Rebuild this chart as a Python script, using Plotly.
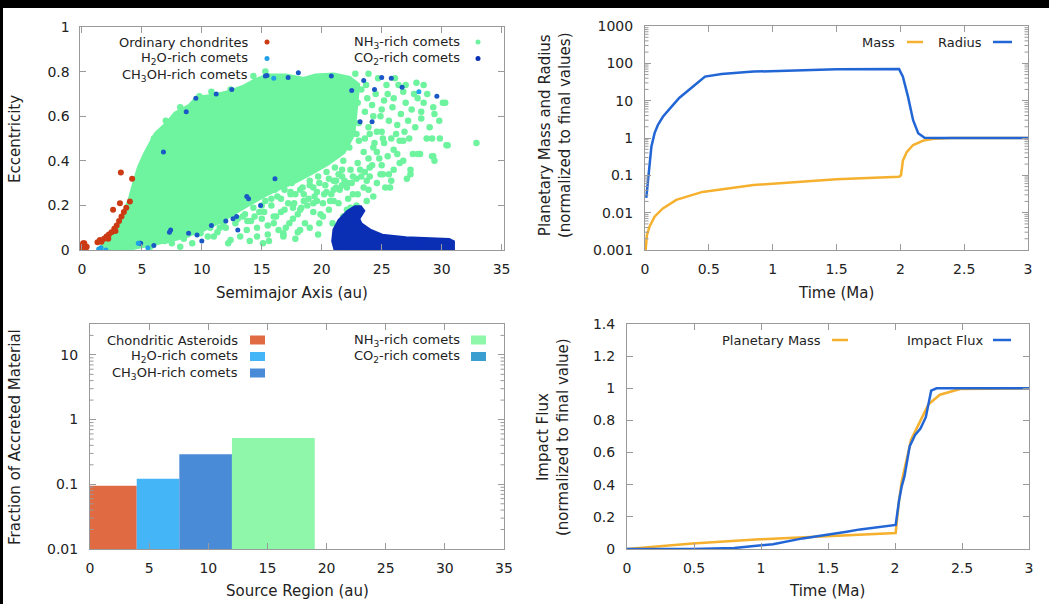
import plotly.graph_objects as go

W, H = 1049, 604


def px(x):
    return x / W


def py(y):
    return 1 - y / H


# ---------------- data: panel (a) semimajor axis [au] / eccentricity ----------------
# outline of the densely populated NH3-rich comet cloud
nh3_core_a = [1.4, 1.8, 2.5, 3.3, 4.0, 4.4, 4.8, 5.3, 6.2, 7.2, 7.8, 9.0, 9.6, 11.0, 12.2, 13.5, 14.5,
              15.5, 17.0, 18.5, 19.5, 21.0, 22.3, 23.0, 22.9, 22.8, 22.6, 21.8, 20.5, 19.2, 17.8, 16.5,
              15.3, 14.0, 12.8, 11.5, 10.0, 8.0, 6.0, 5.0, 4.0, 3.2]
nh3_core_e = [0.0, 0.02, 0.06, 0.14, 0.22, 0.30, 0.37, 0.43, 0.52, 0.57, 0.61, 0.645, 0.68, 0.69, 0.705,
              0.73, 0.76, 0.78, 0.78, 0.765, 0.78, 0.785, 0.77, 0.74, 0.68, 0.62, 0.52, 0.44, 0.39, 0.35,
              0.31, 0.28, 0.25, 0.21, 0.17, 0.13, 0.09, 0.055, 0.03, 0.02, 0.008, 0.0]
# individual NH3-rich comets outside the dense cloud
nh3_a = [15.8, 16.3, 16.9, 17.5, 18.0, 18.6, 19.3, 20.0, 20.8, 21.5,
         16.0, 16.6, 17.2, 17.8, 18.4, 19.0, 19.7, 20.4, 21.1, 21.8,
         17.0, 17.6, 18.3, 18.9, 19.6, 20.3, 21.0, 21.7, 22.4, 23.0,
         18.6, 19.3, 20.1, 20.8, 21.5, 22.2, 22.9, 23.6, 24.2, 24.8,
         15.0, 14.6, 13.8, 15.5, 16.8, 18.0,
         23.5, 24.3, 25.2, 26.0, 22.3, 23.1, 24.0, 25.0, 26.2, 27.3,
         23.3, 23.8, 24.5, 25.2, 25.9, 26.6, 27.2, 23.6, 24.3, 25.0, 25.6, 26.3, 27.0, 27.7, 28.3,
         23.1, 23.9, 24.6, 25.4, 26.1, 24.7, 23.9, 22.8, 27.0, 27.9, 28.5, 29.3, 30.1, 29.8, 30.4,
         28.3, 29.4, 28.5, 30.3,
         6.0, 7.0, 8.2, 9.8, 10.8, 12.4, 14.3, 15.3,
         3.75, 5.7, 7.1, 8.2, 9.9, 11.0, 12.4, 11.5, 12.6, 13.75, 14.6, 15.1, 16.8, 18.2, 16.0, 17.6,
         19.9, 21.0, 19.3, 22.1, 23.75, 25.1, 26.5, 28.2, 29.3, 27.4, 25.7, 23.75, 22.4, 17.4, 20.7,
         20.1, 19.3, 18.5, 18.2, 16.8, 16.2, 22.6, 22.1, 23.5, 24.0, 24.9, 25.6, 25.3, 27.1, 27.4,
         26.8, 27.6, 28.0, 29.2, 29.4, 30.5, 32.9, 29.85, 29.2, 28.75, 26.5, 26.8, 25.1, 21.7, 21.2,
         0.1, 0.05,
         7.5, 8.5, 9.2, 10.5, 11.3, 12.0, 12.8, 13.4, 14.1, 14.8, 13.2, 14.0, 12.2,
         15.3, 16.1, 17.0, 17.7, 18.9, 19.9, 15.5, 16.4, 17.3, 18.0, 18.8, 19.6, 20.4, 21.2, 21.9, 22.6,
         23.2, 23.9, 24.6, 25.5, 26.3, 19.0, 19.8, 20.6, 21.4, 22.2, 23.0, 23.9, 24.6, 26.0, 25.0, 21.8,
         20.9, 17.8, 15.6, 19.7, 22.9, 24.3, 24.0, 25.8,
         22.6, 23.0, 23.7, 24.2, 24.9, 25.5, 26.0, 26.8, 26.4, 27.5, 28.0, 28.8, 27.8, 26.9, 25.8, 23.6,
         24.4, 22.9, 29.0,
         14.3, 15.0, 15.8, 16.6, 17.4, 18.2, 19.0, 19.8, 20.6, 21.4, 13.6, 14.4, 15.2, 16.9, 17.7, 18.5,
         19.4, 20.2, 21.0, 21.7, 22.5, 23.3, 11.8, 13.0, 9.5, 10.7, 8.8, 6.9]
nh3_e = [0.20, 0.24, 0.27, 0.30, 0.33, 0.35, 0.37, 0.39, 0.42, 0.44,
         0.12, 0.17, 0.21, 0.25, 0.28, 0.31, 0.33, 0.35, 0.37, 0.40,
         0.10, 0.14, 0.19, 0.23, 0.26, 0.29, 0.31, 0.33, 0.36, 0.39,
         0.12, 0.17, 0.21, 0.25, 0.27, 0.30, 0.32, 0.35, 0.38, 0.41,
         0.14, 0.10, 0.13, 0.07, 0.06, 0.08,
         0.44, 0.46, 0.48, 0.45, 0.46, 0.49, 0.52, 0.53, 0.52, 0.50,
         0.72, 0.68, 0.70, 0.67, 0.64, 0.61, 0.58, 0.62, 0.60, 0.63, 0.58, 0.56, 0.66, 0.70, 0.62,
         0.57, 0.55, 0.53, 0.74, 0.77, 0.77, 0.79, 0.79, 0.74, 0.75, 0.74, 0.64, 0.66, 0.58, 0.47,
         0.59, 0.61, 0.66, 0.66,
         0.50, 0.58, 0.64, 0.69, 0.71, 0.72, 0.78, 0.80,
         0.015, 0.015, 0.045, 0.015, 0.075, 0.06, 0.045, 0.10, 0.16, 0.09, 0.06, 0.03, 0.067, 0.09, 0.15, 0.19,
         0.16, 0.22, 0.28, 0.28, 0.31, 0.34, 0.39, 0.43, 0.42, 0.34, 0.28, 0.22, 0.19, 0.25, 0.22,
         0.15, 0.21, 0.25, 0.18, 0.075, 0.15, 0.25, 0.18, 0.28, 0.37, 0.34, 0.34, 0.28, 0.32, 0.36,
         0.40, 0.43, 0.43, 0.42, 0.40, 0.47, 0.48, 0.50, 0.50, 0.50, 0.49, 0.49, 0.50, 0.36, 0.31,
         0.01, 0.0,
         0.03, 0.05, 0.03, 0.06, 0.08, 0.10, 0.12, 0.15, 0.13, 0.17, 0.06, 0.04, 0.03,
         0.22, 0.27, 0.31, 0.34, 0.38, 0.41, 0.11, 0.09, 0.12, 0.16, 0.20, 0.22, 0.26, 0.28, 0.31, 0.33,
         0.36, 0.41, 0.44, 0.42, 0.43, 0.10, 0.12, 0.18, 0.21, 0.23, 0.25, 0.27, 0.30, 0.36, 0.38, 0.15,
         0.12, 0.05, 0.04, 0.07, 0.20, 0.24, 0.33, 0.31,
         0.74, 0.66, 0.74, 0.65, 0.60, 0.70, 0.68, 0.71, 0.74, 0.63, 0.68, 0.70, 0.55, 0.53, 0.50, 0.50,
         0.48, 0.52, 0.55,
         0.19, 0.20, 0.23, 0.23, 0.26, 0.27, 0.29, 0.30, 0.32, 0.34, 0.16, 0.15, 0.17, 0.18, 0.21, 0.22,
         0.24, 0.25, 0.27, 0.29, 0.30, 0.33, 0.12, 0.14, 0.08, 0.10, 0.07, 0.04]
ch3oh_a = [12.5, 8.7, 15.3, 6.8, 13.9, 12.9, 12.0, 10.8, 8.9, 7.3, 4.8, 17.2, 18.05, 20.8, 22.5, 23.5,
           24.4, 25.0, 25.8, 26.7, 29.6, 24.2, 9.5, 11.2, 14.9, 10.0, 6.0, 13.0, 9.6, 12.6, 13.75,
           16.1, 23.2, 7.4, 4.9]
ch3oh_e = [0.72, 0.62, 0.78, 0.44, 0.23, 0.15, 0.13, 0.11, 0.075, 0.08, 0.03, 0.774, 0.795, 0.78, 0.715,
           0.76, 0.72, 0.774, 0.77, 0.73, 0.69, 0.575, 0.68, 0.70, 0.20, 0.04, 0.02, 0.09, 0.067, 0.14,
           0.24, 0.32, 0.575, 0.09, 0.03]
h2o_a = [1.4, 1.6, 4.7, 16.0, 28.1, 2.0, 5.5, 1.5]
h2o_e = [0.005, 0.01, 0.03, 0.77, 0.71, 0.0, 0.01, 0.0]
oc_a = [3.25, 4.19, 3.17, 2.6, 4.0, 1.63, 1.85, 2.05, 2.25, 2.47, 2.7, 2.9, 3.1, 3.3, 3.5, 3.7, 1.3, 1.5,
        0.0, 0.2, 0.4, -0.1, 0.3, 0.1, 2.2, 2.8]
oc_e = [0.347, 0.32, 0.21, 0.18, 0.217, 0.037, 0.05, 0.06, 0.07, 0.08, 0.095, 0.11, 0.13, 0.15, 0.17,
        0.19, 0.035, 0.045, 0.02, 0.03, 0.015, 0.01, 0.0, 0.03, 0.05, 0.085]
# outline of the CO2-rich comet clump
co2_core_a = [21.2, 21.0, 21.1, 21.5, 22.2, 22.8, 23.2, 23.4, 23.0, 23.2, 24.0, 25.0, 27.0, 29.0, 30.6,
              30.9, 30.9, 30.6]
co2_core_e = [0.0, 0.04, 0.09, 0.13, 0.17, 0.19, 0.19, 0.175, 0.14, 0.115, 0.085, 0.062, 0.05, 0.045,
              0.043, 0.035, 0.005, 0.0]

# ---------------- data: panel (b) ----------------
t_mass = [0.0, 0.005, 0.015, 0.035, 0.075, 0.14, 0.245, 0.45, 0.85, 1.5, 1.99, 2.005, 2.02, 2.05, 2.1,
          2.18, 2.26, 2.4, 3.0]
mass = [0.001, 0.001, 0.0025, 0.0042, 0.0078, 0.013, 0.022, 0.036, 0.055, 0.078, 0.092, 0.10, 0.25,
        0.42, 0.65, 0.85, 0.95, 1.0, 1.0]
t_rad = [0.01, 0.02, 0.03, 0.04, 0.05, 0.075, 0.1, 0.14, 0.18, 0.22, 0.27, 0.32, 0.4, 0.47, 0.6, 0.85,
         1.2, 1.5, 1.99, 2.02, 2.06, 2.1, 2.14, 2.19, 2.3, 3.0]
radius = [0.025, 0.06, 0.14, 0.3, 0.58, 1.35, 2.2, 3.7, 5.5, 7.7, 12.0, 17.0, 28.0, 44.0, 52.0, 60.0,
          66.0, 69.0, 70.0, 44.0, 12.8, 3.0, 1.34, 1.02, 1.0, 1.0]

# ---------------- data: panel (c) ----------------
src_left = [0.0, 3.95, 7.55, 12.0]
src_right = [3.95, 7.55, 12.0, 19.0]
src_frac = [0.095, 0.122, 0.29, 0.52]

# ---------------- data: panel (d) ----------------
t_pm = [0.0, 0.49, 0.99, 1.49, 1.99, 2.005, 2.03, 2.05, 2.12, 2.19, 2.25, 2.335, 2.485, 3.0]
planet_mass = [0.0, 0.035, 0.06, 0.08, 0.098, 0.10, 0.30, 0.42, 0.68, 0.80, 0.90, 0.96, 0.995, 1.0]
t_flux = [0.0, 0.49, 0.8, 0.99, 1.09, 1.31, 1.49, 1.64, 1.74, 1.99, 2.005, 2.03, 2.05, 2.07, 2.09,
          2.11, 2.15, 2.19, 2.23, 2.25, 2.27, 2.31, 3.0]
impact_flux = [0.0, 0.0, 0.006, 0.019, 0.03, 0.066, 0.087, 0.108, 0.122, 0.145, 0.15, 0.30, 0.39, 0.45,
               0.55, 0.64, 0.71, 0.75, 0.82, 0.907, 0.985, 1.0, 1.0]

# tick labels
x_ticks_au = [0, 5, 10, 15, 20, 25, 30, 35]
log_ticks_b = [0.001, 0.01, 0.1, 1, 10, 100, 1000]
log_text_b = ["0.001", "0.01", "0.1", "1", "10", "100", "1000"]
log_ticks_c = [0.01, 0.1, 1, 10]
log_text_c = ["0.01", "0.1", "1", "10"]

# ---------------- colours ----------------
C_OC = "#cc3a14"
C_H2O = "#1fa0e8"
C_CH3OH = "#1a58c6"
C_NH3 = "#6ef39e"
C_CO2 = "#0a2fb5"
C_MASS = "#f5b02e"
C_RAD = "#2266d6"
BAR_COLORS = ["#e06a42", "#44b5f6", "#4a8bd8", "#8ff7a9"]
C_CO2_BAR = "#3a9fd0"

FONT = "DejaVu Sans"
TXT = "#222222"
AX = "#9a9a9a"

# panel frames in pixels (left, right, top, bottom)
FR_A = (79.5, 504, 27, 250)
FR_B = (645, 1028, 26, 250)
FR_C = (90, 504, 324, 549)
FR_D = (627, 1029, 324, 549)

fig = go.Figure()

# panel (a)
fig.add_trace(go.Scatter(x=nh3_core_a, y=nh3_core_e, mode="lines", fill="toself", fillcolor=C_NH3,
                         line=dict(color=C_NH3, width=5), xaxis="x", yaxis="y", hoverinfo="skip"))
fig.add_trace(go.Scatter(x=nh3_a, y=nh3_e, mode="markers", marker=dict(color=C_NH3, size=6.5),
                         xaxis="x", yaxis="y"))
fig.add_trace(go.Scatter(x=ch3oh_a, y=ch3oh_e, mode="markers", marker=dict(color=C_CH3OH, size=5),
                         xaxis="x", yaxis="y"))
fig.add_trace(go.Scatter(x=h2o_a, y=h2o_e, mode="markers", marker=dict(color=C_H2O, size=5),
                         xaxis="x", yaxis="y"))
fig.add_trace(go.Scatter(x=oc_a, y=oc_e, mode="markers", marker=dict(color=C_OC, size=6),
                         xaxis="x", yaxis="y"))
fig.add_trace(go.Scatter(x=co2_core_a, y=co2_core_e, mode="lines", fill="toself", fillcolor=C_CO2,
                         line=dict(color=C_CO2, width=5), xaxis="x", yaxis="y", hoverinfo="skip"))

# panel (b)
fig.add_trace(go.Scatter(x=t_mass, y=mass, mode="lines", line=dict(color=C_MASS, width=2.5),
                         xaxis="x2", yaxis="y2"))
fig.add_trace(go.Scatter(x=t_rad, y=radius, mode="lines", line=dict(color=C_RAD, width=2.5),
                         xaxis="x2", yaxis="y2"))

# panel (c)
centers = [(a + b) / 2 for a, b in zip(src_left, src_right)]
widths = [b - a for a, b in zip(src_left, src_right)]
fig.add_trace(go.Bar(x=centers, y=src_frac, width=widths, marker=dict(color=BAR_COLORS, line=dict(width=0)),
                     xaxis="x3", yaxis="y3"))

# panel (d)
fig.add_trace(go.Scatter(x=t_pm, y=planet_mass, mode="lines", line=dict(color=C_MASS, width=2.5),
                         xaxis="x4", yaxis="y4"))
fig.add_trace(go.Scatter(x=t_flux, y=impact_flux, mode="lines", line=dict(color=C_RAD, width=2.5),
                         xaxis="x4", yaxis="y4"))

tickfont = dict(family=FONT, size=14, color=TXT)


def axis(**kw):
    d = dict(showline=True, linecolor=AX, linewidth=1, mirror="allticks", ticks="inside", ticklen=6,
             tickcolor=AX, tickwidth=1, showgrid=False, zeroline=False, tickfont=tickfont,
             automargin=False, fixedrange=True)
    d.update(kw)
    return d


fig.update_layout(
    width=W, height=H, autosize=False, showlegend=False,
    margin=dict(l=0, r=0, t=0, b=0, pad=0),
    paper_bgcolor="black", plot_bgcolor="white",
    xaxis=axis(domain=[px(FR_A[0]), px(FR_A[1])], range=[-0.2, 35.2], tickvals=x_ticks_au,
               anchor="y", ticklabelstandoff=6),
    yaxis=axis(domain=[py(FR_A[3]), py(FR_A[2])], range=[0, 1], dtick=0.2, anchor="x", ticklabelstandoff=6),
    xaxis2=axis(domain=[px(FR_B[0]), px(FR_B[1])], range=[0, 3], dtick=0.5, anchor="y2", ticklabelstandoff=6),
    yaxis2=axis(domain=[py(FR_B[3]), py(FR_B[2])], type="log", range=[-3, 3], tickmode="array",
                tickvals=log_ticks_b, ticktext=log_text_b, anchor="x2", ticklabelstandoff=8),
    xaxis3=axis(domain=[px(FR_C[0]), px(FR_C[1])], range=[0, 35], tickvals=x_ticks_au,
                anchor="y3", ticklabelstandoff=6),
    yaxis3=axis(domain=[py(FR_C[3]), py(FR_C[2])], type="log", range=[-2, 1.477], tickmode="array",
                tickvals=log_ticks_c, ticktext=log_text_c, anchor="x3", ticklabelstandoff=8),
    xaxis4=axis(domain=[px(FR_D[0]), px(FR_D[1])], range=[0, 3], dtick=0.5, anchor="y4", ticklabelstandoff=6),
    yaxis4=axis(domain=[py(FR_D[3]), py(FR_D[2])], range=[0, 1.4], dtick=0.2, anchor="x4", ticklabelstandoff=8),
)

shapes = [dict(type="rect", xref="paper", yref="paper", x0=px(3), x1=1, y0=0, y1=py(8),
               fillcolor="white", line=dict(width=0), layer="below")]
annotations = []


def minor_log_ticks(frame, yref, lo_exp, hi_exp, top_val):
    # small inward ticks at 2..9 x 10^k on both vertical sides of a log-scaled panel
    left, right = frame[0], frame[1]
    for k in range(lo_exp, hi_exp):
        for m in range(2, 10):
            v = m * 10.0 ** k
            if v >= top_val:
                continue
            for x0, x1 in ((left, left + 3.5), (right - 3.5, right)):
                shapes.append(dict(type="line", xref="paper", yref=yref, x0=px(x0), x1=px(x1), y0=v, y1=v,
                                   line=dict(color=AX, width=1)))


minor_log_ticks(FR_B, "y2", -3, 3, 1000)
minor_log_ticks(FR_C, "y3", -2, 2, 30)


def label(text, x, y, size=13, anchor="right", angle=0):
    annotations.append(dict(text=text, x=px(x), y=py(y), xref="paper", yref="paper", showarrow=False,
                            xanchor=anchor, yanchor="middle", textangle=angle,
                            font=dict(family=FONT, size=size, color=TXT)))


def dot(cx, cy, color, r=2.5):
    shapes.append(dict(type="circle", xref="paper", yref="paper", x0=px(cx - r), x1=px(cx + r),
                       y0=py(cy + r), y1=py(cy - r), fillcolor=color, line=dict(width=0)))


def seg(x0, x1, cy, color):
    shapes.append(dict(type="line", xref="paper", yref="paper", x0=px(x0), x1=px(x1), y0=py(cy),
                       y1=py(cy), line=dict(color=color, width=2.5)))


def box(x0, x1, cy, color):
    shapes.append(dict(type="rect", xref="paper", yref="paper", x0=px(x0), x1=px(x1), y0=py(cy + 4.5),
                       y1=py(cy - 4.5), fillcolor=color, line=dict(width=0)))


# panel (a) legend
label("Ordinary chondrites", 250, 42)
dot(267, 42, C_OC)
label("H<sub>2</sub>O-rich comets", 250, 58.5)
dot(267, 58.5, C_H2O)
label("CH<sub>3</sub>OH-rich comets", 250, 75.5)
dot(267, 75.5, C_CH3OH)
label("NH<sub>3</sub>-rich comets", 462, 42)
dot(478, 42, C_NH3)
label("CO<sub>2</sub>-rich comets", 462, 58.5)
dot(478, 58.5, C_CO2)

# panel (b) legend
label("Mass", 897, 42)
seg(907, 923, 42, C_MASS)
label("Radius", 984, 42)
seg(993, 1012, 42, C_RAD)

# panel (c) legend
label("Chondritic Asteroids", 240, 340)
box(250, 265, 340, BAR_COLORS[0])
label("H<sub>2</sub>O-rich comets", 240, 356.5)
box(250, 265, 356.5, BAR_COLORS[1])
label("CH<sub>3</sub>OH-rich comets", 240, 373)
box(250, 265, 373, BAR_COLORS[2])
label("NH<sub>3</sub>-rich comets", 462, 340)
box(471, 486, 340, BAR_COLORS[3])
label("CO<sub>2</sub>-rich comets", 462, 356.5)
box(471, 486, 356.5, C_CO2_BAR)

# panel (d) legend
label("Planetary Mass", 823, 340)
seg(832, 848, 340, C_MASS)
label("Impact Flux", 985, 340)
seg(993, 1011, 340, C_RAD)

# axis titles
label("Semimajor Axis (au)", 292, 293, size=15, anchor="center")
label("Eccentricity", 15, 139, size=15, anchor="center", angle=-90)
label("Time (Ma)", 836, 293, size=15, anchor="center")
label("Planetary Mass and Radius<br>(normalized to final values)", 555, 135, size=15, anchor="center",
      angle=-90)
label("Source Region (au)", 297, 591, size=15, anchor="center")
label("Fraction of Accreted Material", 15, 437, size=15, anchor="center", angle=-90)
label("Time (Ma)", 827, 591, size=15, anchor="center")
label("Impact Flux<br>(normalized to final value)", 553, 437, size=15, anchor="center", angle=-90)

fig.update_layout(shapes=shapes, annotations=annotations)
fig.write_html("out.html")
